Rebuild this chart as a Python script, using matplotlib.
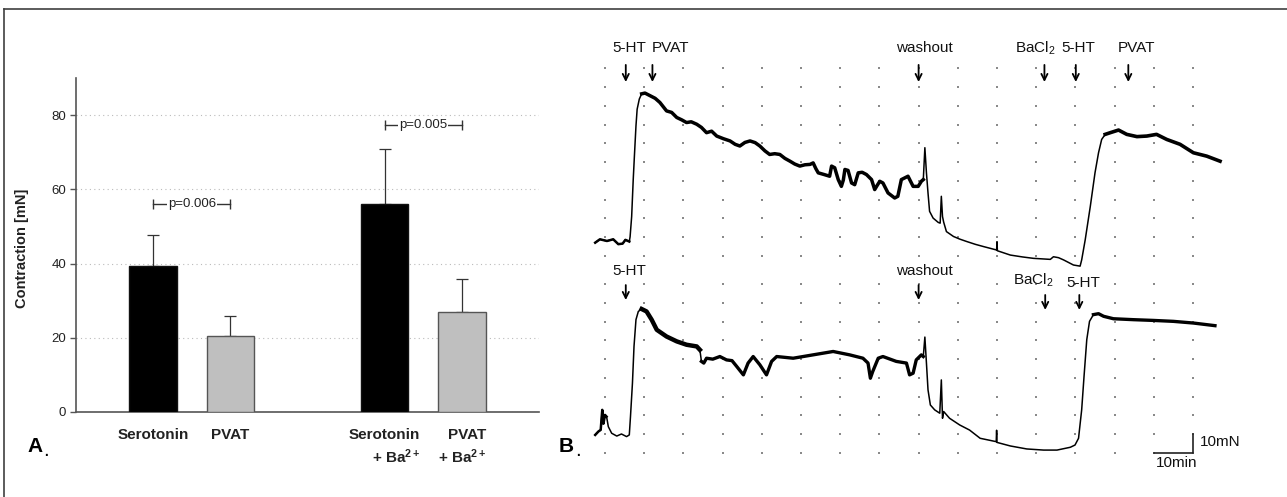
import numpy as np
import matplotlib
matplotlib.use("Agg")
import matplotlib.pyplot as plt
from matplotlib.lines import Line2D

plt.rcParams['font.family'] = ['Liberation Sans', 'DejaVu Sans']
plt.rcParams['mathtext.fontset'] = 'custom'
plt.rcParams['mathtext.rm'] = 'Liberation Sans'
plt.rcParams['mathtext.bf'] = 'Liberation Sans:bold'
plt.rcParams['mathtext.it'] = 'Liberation Sans:italic'

# ---------------- Panel A data ----------------
categories = ["Serotonin", "PVAT",
              "Serotonin\n+ Ba$^{\\mathbf{2+}}$", "PVAT\n+ Ba$^{\\mathbf{2+}}$"]
bar_pos = [1, 2, 4, 5]
means = [39.3, 20.4, 56.0, 27.0]
err_up = [8.3, 5.3, 14.9, 8.9]
bar_colors = ['#000000', '#bfbfbf', '#000000', '#bfbfbf']
bar_edges = ['#111111', '#555555', '#111111', '#555555']
p_labels = ["p=0.006", "p=0.005"]
p_pairs = [(1, 2), (4, 5)]
p_levels = [56.0, 77.5]
yticks_A = [0, 20, 40, 60, 80]

# ---------------- Panel B data (time in min, force in mN) ----------------
top_t = [-2.5, -1.3, 0.5, 2.1, 3.4, 4.5, 5.2, 6.2, 6.4, 6.8, 7.2, 7.5, 7.9, 8.2, 8.75,
         9.35, 10.2, 11.5, 12.8, 14.0, 15.7, 17.0, 18.3, 19.6, 20.8, 22.0, 23.4, 24.6,
         25.9, 27.2, 28.5, 30.2, 31.9, 33.2, 34.4, 35.7, 37.0, 38.3, 39.5, 40.8, 42.0,
         43.3, 44.6, 45.9, 47.2, 48.4, 49.7, 51.0, 52.3, 53.1, 53.8, 54.4, 55.9, 57.3,
         57.8, 58.6, 59.5, 60.3, 60.8, 61.2, 62.0, 62.9, 63.7, 64.6, 65.6, 66.7, 68.0,
         68.8, 69.4, 70.1, 70.9, 72.2, 73.9, 74.7, 75.6, 77.3, 78.6, 79.9, 80.7, 81.2,
         81.6, 82.0, 82.4, 82.8, 83.7, 85.0, 85.5, 85.8, 86.1, 86.4, 87.1, 88.9, 90.5,
         92.3, 94.5, 96.6, 99.9, 100.0, 100.1, 103.4, 106.5, 109.3, 113.6, 114.4, 115.7,
         117.0, 119.5, 121.2, 121.6, 122.5, 123.8, 125.0, 125.9, 126.7, 127.6, 128.9,
         131.0, 133.1, 135.7, 138.2, 140.7, 143.3, 146.7, 150.1, 153.5, 156.9]
top_v = [7.1, 8.9, 8.0, 8.9, 6.3, 6.6, 8.6, 7.7, 10.2, 21.0, 40.7, 53.2, 69.3, 78.2, 83.6,
         86.4, 86.8, 85.4, 84.0, 81.8, 77.3, 76.5, 73.8, 72.5, 71.1, 71.5, 70.2, 68.5,
         65.7, 66.5, 63.9, 62.5, 61.3, 59.5, 58.6, 60.5, 61.3, 60.4, 58.6, 56.0, 54.1,
         54.5, 54.1, 52.0, 50.5, 49.0, 47.9, 48.6, 48.8, 49.6, 46.5, 44.3, 43.4, 42.5,
         47.9, 47.0, 40.7, 37.1, 40.5, 46.1, 45.6, 38.9, 38.0, 44.3, 44.6, 43.4, 40.7,
         35.4, 37.5, 39.8, 38.9, 33.6, 30.9, 31.8, 40.7, 42.5, 37.1, 37.1, 39.8, 40.7,
         57.7, 44.3, 33.6, 23.8, 20.2, 17.9, 17.5, 31.8, 21.0, 18.0, 13.0, 10.4, 9.0,
         7.7, 6.2, 5.0, 3.2, 7.6, 2.8, 0.5, -0.5, -1.25, -1.8, -0.4, -0.9,
         -2.1, -4.8, -5.4, -2.1, 8.6, 26.4, 44.3, 55.0, 62.1, 64.8, 65.7,
         67.1, 64.8, 63.6, 63.9, 64.8, 62.1, 59.5, 55.0, 53.2, 50.5]

bot_t = [-2.5, -1.7, -1.1, -0.7, -0.4, 0.0, 0.4, 0.85, 1.7, 3.0, 4.2, 5.5, 6.2, 6.5, 7.0,
         7.4, 7.9, 8.5, 9.35, 10.6, 11.9, 13.2, 15.7, 18.3, 20.8, 23.4, 24.2, 24.6, 25.2,
         25.9, 27.5, 29.3, 31.0, 32.4, 33.6, 35.3, 36.5, 37.8, 39.5, 41.2, 42.5, 43.8,
         48.0, 53.1, 58.2, 62.4, 65.8, 67.1, 67.7, 68.3, 69.7, 70.9, 74.3, 76.9, 77.7,
         78.6, 79.4, 80.7, 81.2, 81.6, 82.0, 82.4, 83.0, 84.1, 85.4, 85.8, 86.1, 86.4,
         87.9, 90.5, 93.0, 95.7, 99.8, 99.9, 100.0, 103.4, 107.6, 111.9, 115.3, 118.7,
         119.9, 120.8, 121.6, 122.2, 122.9, 123.6, 124.6, 125.9, 127.2, 129.7, 134.8,
         139.9, 145.0, 150.1, 155.6]
bot_v = [9.5, 11.3, 12.2, 22.9, 15.5, 20.2, 19.3, 13.9, 10.4, 8.9, 10.0, 8.6, 9.5, 19.3, 37.1,
         56.8, 71.1, 75.5, 76.8, 75.5, 71.1, 65.7, 62.1, 59.5, 57.7, 56.8, 55.0, 48.8, 47.9,
         50.5, 50.0, 51.4, 49.6, 49.2, 46.1, 41.6, 47.9, 51.4, 47.0, 41.6, 48.8, 51.4,
         50.5, 52.3, 54.1, 52.3, 50.5, 47.9, 39.8, 43.4, 50.5, 51.4, 48.8, 47.9, 41.6,
         42.5, 49.6, 52.3, 51.4, 61.8, 47.9, 33.6, 25.5, 22.9, 21.1, 38.9, 18.4, 22.0,
         18.4, 14.8, 12.1, 7.7, 5.9, 12.0, 5.5, 3.6, 2.0, 1.4, 1.4, 2.9,
         4.1, 7.7, 22.9, 40.7, 60.4, 70.2, 73.8, 74.3, 72.9, 71.6, 71.1,
         70.7, 70.2, 69.3, 67.9]

top_events = ["5-HT", "PVAT", "washout", "BaCl$_2$", "5-HT", "PVAT"]
top_event_t = [5.3, 12.1, 80.0, 112.1, 120.1, 133.5]
bot_events = ["5-HT", "washout", "BaCl$_2$", "5-HT"]
bot_event_t = [5.3, 80.0, 112.3, 121.0]

# ---------------- Figure ----------------
W, H = 1287, 497
fig = plt.figure(figsize=(W / 100, H / 100), dpi=100)
fig.patch.set_facecolor('white')

def fx(px):
    return px / W

def fy(py):
    return 1 - py / H

# figure frame (top and left edges visible)
fig.add_artist(Line2D([fx(4), fx(W)], [fy(8.5), fy(8.5)], color='#404040', lw=1.2))
fig.add_artist(Line2D([fx(4), fx(4)], [fy(8.5), fy(H)], color='#404040', lw=1.2))

# ---------------- Panel A ----------------
axA = fig.add_axes([fx(76), fy(411.7), fx(463), (411.7 - 78.3) / H])
axA.set_xlim(0, 6)
axA.set_ylim(0, 90)
axA.bar(bar_pos, means, width=0.615, color=bar_colors, edgecolor=bar_edges,
        linewidth=1.0, zorder=3)
axA.errorbar(bar_pos, means, yerr=[np.zeros(len(means)), err_up], fmt='none',
             ecolor='#333333', elinewidth=0.9, capsize=4, capthick=0.9, zorder=2)
for lab, (a, b), lev in zip(p_labels, p_pairs, p_levels):
    axA.plot([a, b], [lev, lev], color='#333333', lw=1.0, zorder=4)
    axA.plot([a, b], [lev, lev], ls='none', marker='|', ms=7, mew=1.0,
             color='#333333', zorder=4)
    axA.text((a + b) / 2, lev, lab, ha='center', va='center', fontsize=9.5,
             color='#222222', zorder=5,
             bbox=dict(facecolor='white', edgecolor='none', pad=0.6))
axA.set_yticks(yticks_A)
axA.set_yticklabels([str(v) for v in yticks_A], fontsize=9.5, color='#222222')
axA.set_xticks(bar_pos)
axA.set_xticklabels(categories, fontsize=11, fontweight='bold', color='#222222',
                    multialignment='right', linespacing=1.35)
axA.tick_params(axis='x', length=0, pad=12)
axA.tick_params(axis='y', length=4, width=1, color='#555555', pad=3)
axA.yaxis.grid(True, linestyle=(0, (1, 3)), color='#bbbbbb', lw=0.8)
axA.set_axisbelow(True)
for s in ['top', 'right']:
    axA.spines[s].set_visible(False)
for s in ['left', 'bottom']:
    axA.spines[s].set_color('#555555')
    axA.spines[s].set_linewidth(1.2)
axA.set_ylabel("Contraction [mN]", fontsize=10.5, fontweight='bold', color='#222222')
axA.yaxis.set_label_coords((29.5 - 76) / 463, 0.49)

fig.text(fx(27), fy(447), "A", fontsize=15, fontweight='bold', ha='left', va='center')
fig.text(fx(43), fy(450), ".", fontsize=15, ha='left', va='center')
fig.text(fx(559), fy(447), "B", fontsize=15, fontweight='bold', ha='left', va='center')
fig.text(fx(575), fy(450), ".", fontsize=15, ha='left', va='center')

# ---------------- Panel B ----------------
xpx0, pxmin = 605.0, 3.92  # pixel of t=0, px per minute

def make_ax(v0_px, px_per_mn, ylo, yhi):
    left = xpx0 - 4 * pxmin
    right = xpx0 + 170 * pxmin
    bottom_px = v0_px - ylo * px_per_mn
    top_px = v0_px - yhi * px_per_mn
    ax = fig.add_axes([fx(left), fy(bottom_px), fx(right - left), (bottom_px - top_px) / H])
    ax.set_xlim(-4, 170)
    ax.set_ylim(ylo, yhi)
    ax.axis('off')
    ax.patch.set_alpha(0)
    return ax

axT = make_ax(256.0, 1.877, -12, 120)
axB = make_ax(452.7, 1.871, -10, 100)

# dotted background grids
for ax, nrows in [(axT, 11), (axB, 10)]:
    gx, gy = np.meshgrid(np.arange(0, 151, 10), np.arange(0, nrows * 10, 10))
    ax.scatter(gx.ravel(), gy.ravel(), s=1.3, marker='s', color='#8a8a8a',
               linewidths=0, zorder=1)

def draw_trace(ax, t, v, thick_ranges):
    t = np.asarray(t)
    v = np.asarray(v)
    ax.plot(t, v, color='black', lw=1.1, zorder=3, solid_joinstyle='round')
    for a, b, lw in thick_ranges:
        m = (t >= a) & (t <= b)
        ax.plot(t[m], v[m], color='black', lw=lw, zorder=3, solid_joinstyle='round')

draw_trace(axT, top_t, top_v, [(-3, 6.2, 1.8), (9, 81.2, 2.5), (127, 157, 2.6)])
draw_trace(axB, bot_t, bot_v, [(-3, 0.5, 1.8), (9, 24.5, 3.2), (24.5, 81.2, 2.4),
                               (124, 156, 2.4)])

# event annotations
arrow_kw = dict(arrowstyle='->', lw=1.3, color='black', mutation_scale=11,
                shrinkA=0, shrinkB=0)
top_text_dt = [0.8, 4.5, 1.6, -2.4, 0.6, 2.0]
for lab, t, dt in zip(top_events, top_event_t, top_text_dt):
    axT.annotate("", xy=(t, 92.7), xytext=(t, 101.8), arrowprops=arrow_kw)
    axT.text(t + dt, 110.7, lab, ha='center', va='center', fontsize=11, color='#111111')

bot_text_dt = [0.8, 1.6, -3.1, 0.9]
bot_text_v = [97.1, 97.1, 92.2, 90.5]
bot_arrow_v = [(89.6, 81.6), (89.6, 81.6), (84.3, 76.3), (84.3, 76.3)]
for lab, t, dt, tv, (a0, a1) in zip(bot_events, bot_event_t, bot_text_dt, bot_text_v, bot_arrow_v):
    axB.annotate("", xy=(t, a1), xytext=(t, a0), arrowprops=arrow_kw)
    axB.text(t + dt, tv, lab, ha='center', va='center', fontsize=11, color='#111111')

# scale bar
axB.plot([140, 150, 150], [0, 0, 10], color='#222222', lw=1.2, zorder=4,
         solid_joinstyle='miter')
axB.text(151.8, 5.9, "10mN", ha='left', va='center', fontsize=11, color='#111111')
axB.text(145.7, -5.7, "10min", ha='center', va='center', fontsize=11, color='#111111')

fig.savefig("out.png", dpi=100, facecolor='white')
